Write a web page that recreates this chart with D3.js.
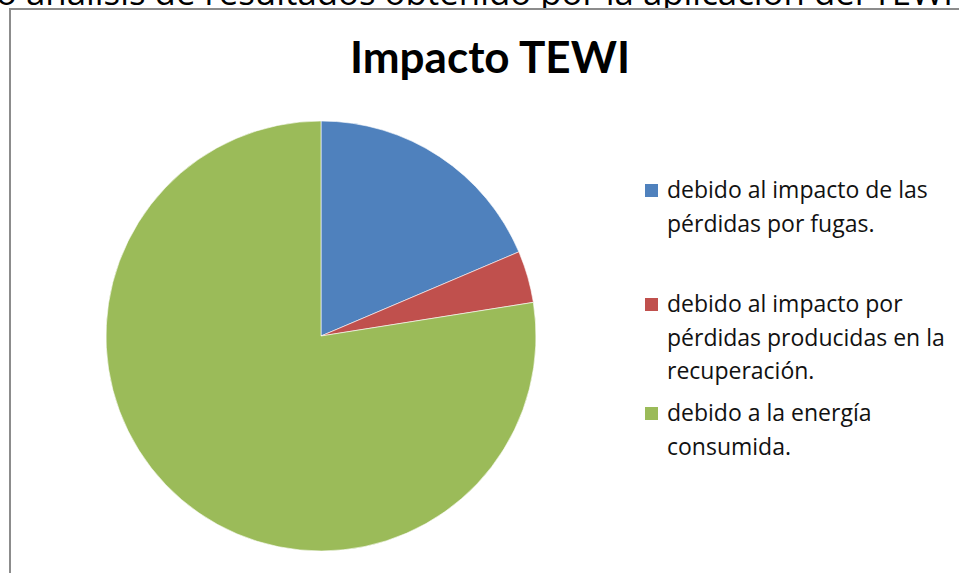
<!DOCTYPE html>
<html>
<head>
    <meta charset="utf-8">
    <script src="https://d3js.org/d3.v7.min.js"></script>
    <style>
        body { margin: 0; background: #ffffff; overflow: hidden; }
        svg { display: block; }
    </style>
</head>
<body>
<div id="container"></div>
<script>
    // data
    var categories = [
        "debido al impacto de las pérdidas por fugas.",
        "debido al impacto por pérdidas producidas en la recuperación.",
        "debido a la energía consumida."
    ];
    var values = [18.6, 3.9, 77.5];
    var legendLines = [
        ["debido al impacto de las", "pérdidas por fugas."],
        ["debido al impacto por", "pérdidas producidas en la", "recuperación."],
        ["debido a la energía", "consumida."]
    ];
    var colors = ["#4f81bd", "#c0504d", "#9bbb59"];

    var width = 959, height = 573;
    var svg = d3.select("#container").append("svg")
        .attr("width", width)
        .attr("height", height);

    // cut-off document text above the chart
    svg.append("text")
        .attr("x", -4)
        .attr("y", 5)
        .attr("textLength", 957)
        .attr("lengthAdjust", "spacingAndGlyphs")
        .style("font-family", "'Open Sans', sans-serif")
        .style("font-size", "34px")
        .style("fill", "#000")
        .text("o análisis de resultados obtenido por la aplicación del TEWI");

    // chart frame
    svg.append("rect")
        .attr("x", 10)
        .attr("y", 9)
        .attr("width", 1000)
        .attr("height", 600)
        .style("fill", "#fff")
        .style("stroke", "#8c8c8c")
        .style("stroke-width", 2);

    // title
    svg.append("text")
        .attr("x", 490)
        .attr("y", 73)
        .style("text-anchor", "middle")
        .style("font-family", "Lato, sans-serif")
        .style("font-weight", "bold")
        .style("font-size", "44px")
        .style("fill", "#000")
        .text("Impacto TEWI");

    // pie
    var radius = 215;
    var pie = d3.pie().sort(null).value(function(d) { return d; });
    var arc = d3.arc().innerRadius(0).outerRadius(radius);
    var color = d3.scaleOrdinal().domain(categories).range(colors);

    var g = svg.append("g").attr("transform", "translate(321,336)");
    g.selectAll("path")
        .data(pie(values))
        .enter().append("path")
        .attr("d", arc)
        .style("fill", function(d, i) { return color(categories[i]); })
        .style("stroke", "#fff")
        .style("stroke-width", 0.6);

    // legend
    var legendY = [198, 312, 421];
    var lineH = 33.5;
    var legend = svg.append("g");
    categories.forEach(function(c, i) {
        var item = legend.append("g").attr("transform", "translate(0," + legendY[i] + ")");
        item.append("rect")
            .attr("x", 645)
            .attr("y", -14)
            .attr("width", 13)
            .attr("height", 13)
            .style("fill", color(c));
        item.selectAll("text")
            .data(legendLines[i])
            .enter().append("text")
            .attr("x", 667)
            .attr("y", function(d, j) { return j * lineH; })
            .style("font-family", "'Open Sans', sans-serif")
            .style("font-size", "23px")
            .style("fill", "#111")
            .text(function(d) { return d; });
    });
</script>
</body>
</html>
